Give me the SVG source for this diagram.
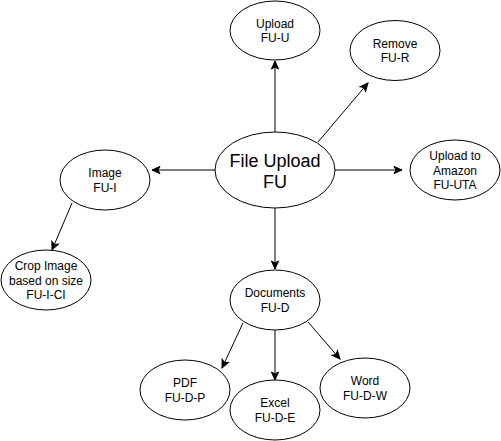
<svg xmlns="http://www.w3.org/2000/svg" width="501" height="441" viewBox="0 0 501 441">
<style>
.n{fill:#fff;stroke:#000;stroke-width:1}
.t{font-family:"Liberation Sans",Arial,Helvetica,sans-serif;font-size:12px;fill:#000;text-anchor:middle}
.big{font-size:18px}
.e{fill:none;stroke:#000;stroke-width:1;marker-end:url(#arr)}
</style>
<defs>
<marker id="arr" markerUnits="userSpaceOnUse" viewBox="-1 -5 11 10" refX="8" refY="0" markerWidth="11" markerHeight="10" orient="auto">
<path d="M0,-3.6 L8,0 L0,3.6 L2,0 Z" fill="#000" stroke="#000" stroke-width="1" stroke-linejoin="miter"/>
</marker>
</defs>
<rect width="501" height="441" fill="#fff"/>
<g id="connectors">
<line class="e" x1="275" y1="132" x2="275" y2="61"/>
<line class="e" x1="318" y1="142" x2="368" y2="83"/>
<line class="e" x1="335" y1="170" x2="402" y2="170"/>
<line class="e" x1="215" y1="170" x2="152" y2="170"/>
<line class="e" x1="275" y1="208" x2="275" y2="269"/>
<line class="e" x1="72" y1="203" x2="52" y2="250"/>
<line class="e" x1="243" y1="323" x2="222" y2="368"/>
<line class="e" x1="275" y1="330" x2="275" y2="380"/>
<line class="e" x1="308" y1="322" x2="340" y2="359"/>
</g>
<g id="fu">
<ellipse class="n" cx="275" cy="170" rx="60" ry="38"/>
<text class="t big" x="275" y="166.5">File Upload</text>
<text class="t big" x="275" y="188">FU</text>
</g>
<g id="fu-u">
<ellipse class="n" cx="275" cy="30.5" rx="45" ry="29.5"/>
<text class="t" x="275" y="27.5">Upload</text>
<text class="t" x="275" y="42">FU-U</text>
</g>
<g id="fu-r">
<ellipse class="n" cx="395" cy="50.5" rx="45" ry="30"/>
<text class="t" x="395" y="47.5">Remove</text>
<text class="t" x="395" y="62">FU-R</text>
</g>
<g id="fu-uta">
<ellipse class="n" cx="455" cy="170" rx="45" ry="30"/>
<text class="t" x="455" y="160">Upload to</text>
<text class="t" x="455" y="174.5">Amazon</text>
<text class="t" x="455" y="189">FU-UTA</text>
</g>
<g id="fu-i">
<ellipse class="n" cx="105" cy="180" rx="45" ry="30"/>
<text class="t" x="105" y="177">Image</text>
<text class="t" x="105" y="191.5">FU-I</text>
</g>
<g id="fu-i-ci">
<ellipse class="n" cx="46" cy="280" rx="45" ry="30"/>
<text class="t" x="46" y="270">Crop Image</text>
<text class="t" x="46" y="284.5">based on size</text>
<text class="t" x="46" y="299">FU-I-CI</text>
</g>
<g id="fu-d">
<ellipse class="n" cx="275" cy="300" rx="45" ry="30"/>
<text class="t" x="275" y="297">Documents</text>
<text class="t" x="275" y="311.5">FU-D</text>
</g>
<g id="fu-d-p">
<ellipse class="n" cx="185" cy="390" rx="45" ry="30"/>
<text class="t" x="185" y="387">PDF</text>
<text class="t" x="185" y="401.5">FU-D-P</text>
</g>
<g id="fu-d-e">
<ellipse class="n" cx="275" cy="410" rx="45" ry="30"/>
<text class="t" x="275" y="407">Excel</text>
<text class="t" x="275" y="421.5">FU-D-E</text>
</g>
<g id="fu-d-w">
<ellipse class="n" cx="365" cy="388" rx="45" ry="30"/>
<text class="t" x="365" y="385">Word</text>
<text class="t" x="365" y="399.5">FU-D-W</text>
</g>
</svg>
